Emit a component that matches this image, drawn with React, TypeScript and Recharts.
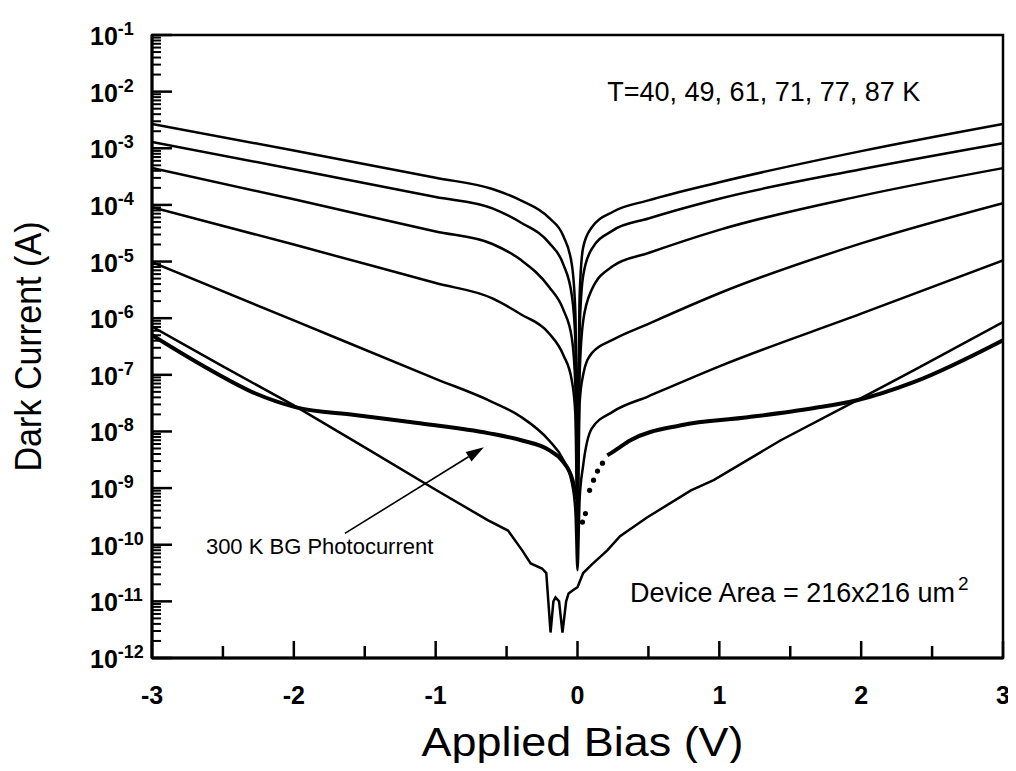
import {
  ComposedChart,
  Line,
  Scatter,
  XAxis,
  YAxis,
  ReferenceArea,
  ReferenceDot,
  ReferenceLine,
  Label,
} from 'recharts';

// bias grid shared by the 49..87 K curves (V)
const biasT = [-3, -2, -1, -0.6, -0.4, -0.2, -0.1, -0.04, -0.015, 0, 0.015, 0.04, 0.1, 0.25, 0.5, 1, 2, 3];
// log10 of dark current (A)
const log87 = [-2.57, -3.04, -3.52, -3.72, -3.92, -4.23, -4.55, -5.05, -5.9, -8.6, -5.6, -4.75, -4.4, -4.12, -3.92, -3.6, -3.05, -2.57];
const log77 = [-2.89, -3.37, -3.86, -4.06, -4.31, -4.67, -5.05, -5.6, -6.4, -8.9, -6.2, -5.25, -4.78, -4.45, -4.24, -3.89, -3.37, -2.91];
const log71 = [-3.35, -3.9, -4.47, -4.69, -4.97, -5.45, -5.85, -6.35, -7.2, -9.1, -7.0, -6.05, -5.5, -5.08, -4.85, -4.44, -3.84, -3.35];
const log61 = [-4.04, -4.7, -5.38, -5.65, -5.93, -6.27, -6.65, -7.1, -7.7, -9.8, -7.5, -7.0, -6.62, -6.38, -6.1, -5.56, -4.68, -3.97];
const log49 = [-5.01, -6.04, -7.07, -7.48, -7.74, -8.16, -8.5, -8.9, -9.4, -10.45, -9.2, -8.6, -7.95, -7.65, -7.38, -6.85, -5.92, -4.98];

// 40 K curve, with the noisy dip left of zero
const bias40 = [-3, -2.5, -2, -1.5, -1, -0.63, -0.49, -0.39, -0.33, -0.25, -0.22, -0.19, -0.17, -0.155, -0.13, -0.106, -0.08, -0.063, -0.03, 0, 0.04, 0.1, 0.21, 0.3, 0.49, 0.8, 0.96, 1.43, 1.97, 2.37, 3];
const log40 = [-6.15, -6.85, -7.54, -8.28, -9.03, -9.57, -9.75, -10.1, -10.33, -10.42, -10.5, -11.55, -11.0, -10.93, -11.0, -11.55, -11.0, -10.86, -10.8, -10.75, -10.5, -10.35, -10.1, -9.85, -9.52, -9.04, -8.86, -8.16, -7.45, -6.92, -6.07];

// 300 K background photocurrent
const biasPhL = [-3, -2.62, -2.27, -1.99, -1.57, -1.1, -0.63, -0.39, -0.2, -0.11, -0.035, -0.01];
const logPhL = [-6.3, -6.87, -7.33, -7.57, -7.71, -7.86, -8.03, -8.16, -8.33, -8.51, -8.86, -9.2];
const biasPhR = [0.21, 0.25, 0.37, 0.73, 1.2, 1.66, 1.97, 2.37, 3];
const logPhR = [-8.42, -8.36, -8.16, -7.89, -7.75, -7.59, -7.45, -7.13, -6.39];
const biasPhDots = [0.035, 0.056, 0.085, 0.113, 0.141, 0.176];
const logPhDots = [-9.6, -9.45, -9.04, -8.86, -8.7, -8.56];

const decades = [-12, -11, -10, -9, -8, -7, -6, -5, -4, -3, -2, -1];
const xTicks = [-3, -2.5, -2, -1.5, -1, -0.5, 0, 0.5, 1, 1.5, 2, 2.5, 3];

const FONT = '"Liberation Sans", Arial, Helvetica, sans-serif';

const toPoints = (xs: number[], logs: number[]) => xs.map((v, i) => ({ v, y: 10 ** logs[i] }));

const curves = [log87, log77, log71, log61, log49].map((l) => toPoints(biasT, l));
const curve40 = toPoints(bias40, log40);
const photo = [...toPoints(biasPhL, logPhL), { v: 0.1, y: null }, ...toPoints(biasPhR, logPhR)];
const photoDots = toPoints(biasPhDots, logPhDots);

const yTicks: number[] = [];
decades.forEach((e) => {
  yTicks.push(10 ** e);
  if (e < -1) for (let m = 2; m <= 9; m++) yTicks.push(m * 10 ** e);
});

function YTick({ x, y, payload }: any) {
  const lg = Math.log10(payload.value);
  const e = Math.round(lg);
  const major = Math.abs(lg - e) < 1e-6;
  return (
    <g>
      <line x1={x} x2={x + (major ? 20 : 9)} y1={y} y2={y} stroke="#000" strokeWidth={major ? 2.5 : 2} />
      {major && (
        <text x={x - 62} y={y + 10} fontFamily={FONT} fontWeight="bold" fontSize={25} fill="#000">
          10
          <tspan dy={-10} fontSize={18}>
            {e}
          </tspan>
        </text>
      )}
    </g>
  );
}

function XTick({ x, y, payload }: any) {
  const v = payload.value;
  const major = Number.isInteger(v);
  return (
    <g>
      <line x1={x} x2={x} y1={y} y2={y - (major ? 17 : 12)} stroke="#000" strokeWidth={2.5} />
      {major && (
        <text x={x} y={y + 46} textAnchor="middle" fontFamily={FONT} fontWeight="bold" fontSize={25} fill="#000">
          {v}
        </text>
      )}
    </g>
  );
}

function Arrow({ x1, y1, x2, y2 }: any) {
  const a = Math.atan2(y2 - y1, x2 - x1);
  const len = 18;
  const w = 5.5;
  const bx = x2 - len * Math.cos(a);
  const by = y2 - len * Math.sin(a);
  const px = -Math.sin(a) * w;
  const py = Math.cos(a) * w;
  return (
    <g>
      <line x1={x1} y1={y1} x2={bx} y2={by} stroke="#000" strokeWidth={1.6} />
      <polygon points={`${x2},${y2} ${bx + px},${by + py} ${bx - px},${by - py}`} fill="#000" />
    </g>
  );
}

const note = (text: string, size: number, sup?: string) => (p: any) => (
  <text x={p.cx} y={p.cy} dominantBaseline="central" fontFamily={FONT} fontSize={size} fill="#000">
    {text}
    {sup && (
      <tspan dx={3} dy={-10} fontSize={19}>
        {sup}
      </tspan>
    )}
  </text>
);

export default function App() {
  return (
    <div style={{ width: 1008, height: 755, background: '#fff' }}>
      <ComposedChart width={1008} height={755} margin={{ top: 27, right: 13, left: 0, bottom: 0 }}>
        <XAxis
          dataKey="v"
          type="number"
          domain={[-3, 3]}
          ticks={xTicks}
          interval={0}
          tickSize={0}
          tickMargin={0}
          tick={<XTick />}
          axisLine={{ stroke: '#000', strokeWidth: 3 }}
          height={105}
          allowDataOverflow
        >
          <Label
            content={({ viewBox }: any) => (
              <text
                x={viewBox.x + viewBox.width / 2 + 5}
                y={viewBox.y + 98}
                textAnchor="middle"
                fontFamily={FONT}
                fontSize={40}
                textLength={322}
                lengthAdjust="spacingAndGlyphs"
                fill="#000"
              >
                Applied Bias (V)
              </text>
            )}
          />
        </XAxis>
        <YAxis
          dataKey="y"
          type="number"
          scale="log"
          domain={[1e-12, 1e-1]}
          ticks={yTicks}
          interval={0}
          tickSize={0}
          tickMargin={0}
          tick={<YTick />}
          axisLine={{ stroke: '#000', strokeWidth: 3 }}
          width={144}
          allowDataOverflow
        >
          <Label
            content={({ viewBox }: any) => {
              const cx = 20;
              const cy = viewBox.y + viewBox.height / 2;
              return (
                <text
                  x={cx}
                  y={cy}
                  transform={`rotate(-90 ${cx} ${cy})`}
                  textAnchor="middle"
                  dominantBaseline="central"
                  fontFamily={FONT}
                  fontSize={36}
                  textLength={250}
                  lengthAdjust="spacingAndGlyphs"
                  fill="#000"
                >
                  Dark Current (A)
                </text>
              );
            }}
          />
        </YAxis>

        <ReferenceArea x1={-3} x2={3} y1={1e-12} y2={1e-1} fill="none" stroke="#000" strokeWidth={2.5} />

        {curves.map((d, i) => (
          <Line
            key={i}
            data={d}
            dataKey="y"
            type="monotone"
            stroke="#000"
            strokeWidth={2.5}
            dot={false}
            isAnimationActive={false}
          />
        ))}
        <Line data={curve40} dataKey="y" type="linear" stroke="#000" strokeWidth={2.5} dot={false} isAnimationActive={false} />
        <Line data={photo} dataKey="y" type="monotone" stroke="#000" strokeWidth={4} dot={false} isAnimationActive={false} />
        <Scatter
          data={photoDots}
          dataKey="y"
          fill="#000"
          shape={(p: any) => <circle cx={p.cx} cy={p.cy} r={2.6} fill="#000" />}
          isAnimationActive={false}
        />

        <ReferenceLine
          segment={[
            { x: -1.64, y: 10 ** -9.8 },
            { x: -0.66, y: 10 ** -8.28 },
          ]}
          shape={Arrow}
        />
        <ReferenceDot x={0.21} y={10 ** -2.01} shape={note('T=40, 49, 61, 71, 77, 87 K', 27)} />
        <ReferenceDot x={0.37} y={10 ** -10.86} shape={note('Device Area = 216x216 um', 27, '2')} />
        <ReferenceDot x={-2.62} y={10 ** -10.03} shape={note('300 K BG Photocurrent', 22)} />
      </ComposedChart>
    </div>
  );
}
